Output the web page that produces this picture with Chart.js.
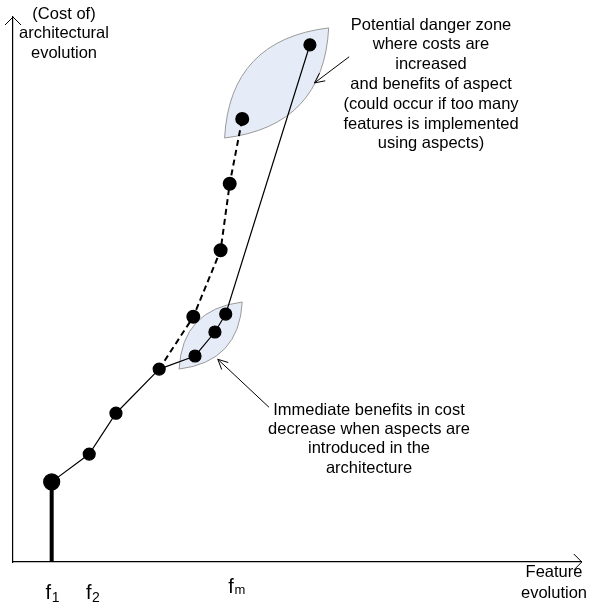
<!DOCTYPE html>
<html>
<head>
<meta charset="utf-8">
<script src="https://cdn.jsdelivr.net/npm/chart.js@4.4.0/dist/chart.umd.min.js"></script>
<style>
  body { margin: 0; background: #fff; }
  #wrap { width: 591px; height: 604px; }
</style>
</head>
<body>
<div id="wrap"><canvas id="cost"></canvas></div>
<script>
// feature evolution (x) vs cost of architectural evolution (y), arbitrary units 0..100
var featureX = [6.8, 13.4, 18.1, 25.7];
var costBase = [14.7, 19.8, 27.3, 35.4];
var aspectX = [25.7, 32.0, 35.5, 37.4, 52.2];
var costAspect = [35.4, 37.8, 42.2, 45.5, 94.9];
var tooManyX = [25.7, 31.7, 36.5, 38.1, 40.3];
var costTooMany = [35.4, 45.0, 57.2, 69.4, 81.3];
var tickValues = [6.9, 14.0, 39.3];
var tickLabels = [["f", "1"], ["f", "2"], ["f", "m"]];

// zones: [x0, y0, x1, y1] lower-left and upper-right corners
var zones = [[37.2, 77.8, 55.5, 98.0], [29.2, 35.4, 40.3, 47.7]];
// arrows: [fromX, fromY, toX, toY]
var arrows = [[59.1, 92.7, 53.0, 87.9], [45.0, 28.4, 36.0, 37.2]];

var FONT = '"Liberation Sans", Arial, sans-serif';

function pts(xs, ys) {
    return xs.map(function (v, i) { return { x: v, y: ys[i] }; });
}

function textBlock(ctx, lines, cx, y0, step) {
    lines.forEach(function (l, i) { ctx.fillText(l, cx, y0 + i * step); });
}

var drawings = {
    id: "drawings",
    beforeDatasetsDraw: function (chart) {
        var ctx = chart.ctx, sx = chart.scales.x, sy = chart.scales.y;
        ctx.save();
        zones.forEach(function (z) {
            var ax = sx.getPixelForValue(z[0]), ay = sy.getPixelForValue(z[1]);
            var bx = sx.getPixelForValue(z[2]), by = sy.getPixelForValue(z[3]);
            var w = bx - ax, h = ay - by;
            ctx.beginPath();
            ctx.moveTo(ax, ay);
            ctx.quadraticCurveTo(ax + 0.05 * w, by + 0.11 * h, bx, by);
            ctx.quadraticCurveTo(bx - 0.05 * w, ay - 0.11 * h, ax, ay);
            ctx.closePath();
            ctx.fillStyle = "#e6ecf7";
            ctx.fill();
            ctx.strokeStyle = "#999999";
            ctx.lineWidth = 1;
            ctx.stroke();
        });
        ctx.restore();
    },
    afterDraw: function (chart) {
        var ctx = chart.ctx, sx = chart.scales.x, sy = chart.scales.y, a = chart.chartArea;
        ctx.save();
        ctx.strokeStyle = "#000";
        ctx.lineWidth = 1;
        // axis arrowheads
        ctx.beginPath();
        ctx.moveTo(a.left - 8, a.top + 8); ctx.lineTo(a.left, a.top); ctx.lineTo(a.left + 8, a.top + 8);
        ctx.moveTo(a.right - 8, a.bottom - 8); ctx.lineTo(a.right, a.bottom); ctx.lineTo(a.right - 8, a.bottom + 8);
        ctx.stroke();
        // annotation arrows
        arrows.forEach(function (r) {
            var x0 = sx.getPixelForValue(r[0]), y0 = sy.getPixelForValue(r[1]);
            var x1 = sx.getPixelForValue(r[2]), y1 = sy.getPixelForValue(r[3]);
            var ang = Math.atan2(y1 - y0, x1 - x0);
            ctx.beginPath();
            ctx.moveTo(x0, y0); ctx.lineTo(x1, y1);
            ctx.moveTo(x1 - 11 * Math.cos(ang - 0.45), y1 - 11 * Math.sin(ang - 0.45));
            ctx.lineTo(x1, y1);
            ctx.lineTo(x1 - 11 * Math.cos(ang + 0.45), y1 - 11 * Math.sin(ang + 0.45));
            ctx.stroke();
        });
        // texts
        ctx.fillStyle = "#000";
        ctx.textAlign = "center";
        ctx.textBaseline = "middle";
        ctx.font = "16.5px " + FONT;
        textBlock(ctx, ["(Cost of)", "architectural", "evolution"], 64, 14, 19.5);
        textBlock(ctx, ["Potential danger zone", "where costs are", "increased",
            "and benefits of aspect", "(could occur if too many",
            "features is implemented", "using aspects)"], 431, 25, 19.8);
        textBlock(ctx, ["Immediate benefits in cost", "decrease when aspects are",
            "introduced in the", "architecture"], 369, 410, 19.4);
        textBlock(ctx, ["Feature", "evolution"], 554, 572, 21);
        // x tick labels with subscripts (fm sits a little higher, as in the drawing)
        var lift = [0, 0, 6];
        var subSize = [14, 14, 13];
        var subDrop = [3, 3, 1];
        ctx.textAlign = "left";
        ctx.textBaseline = "alphabetic";
        tickValues.forEach(function (v, i) {
            var px = sx.getPixelForValue(v);
            ctx.font = "20px " + FONT;
            var wf = ctx.measureText(tickLabels[i][0]).width;
            ctx.font = subSize[i] + "px " + FONT;
            var ws = ctx.measureText(tickLabels[i][1]).width;
            var left = px - (wf + ws) / 2;
            var base = a.bottom + 37 - lift[i];
            ctx.font = "20px " + FONT;
            ctx.fillText(tickLabels[i][0], left, base);
            ctx.font = subSize[i] + "px " + FONT;
            ctx.fillText(tickLabels[i][1], left + wf + 0.5, base + subDrop[i]);
        });
        ctx.restore();
    }
};

var chart = new Chart("cost", {
    type: "scatter",
    data: {
        datasets: [{
                data: [{ x: featureX[0], y: 0 }, { x: featureX[0], y: costBase[0] }],
                showLine: true,
                borderColor: "#000",
                borderWidth: 4,
                pointRadius: 0
            }, {
                data: pts(tooManyX, costTooMany),
                showLine: true,
                borderColor: "#000",
                borderWidth: 2,
                borderDash: [6, 4],
                backgroundColor: "#000",
                pointRadius: [0, 6, 6, 6, 6]
            }, {
                data: pts(aspectX, costAspect),
                showLine: true,
                borderColor: "#000",
                borderWidth: 1.2,
                backgroundColor: "#000",
                pointRadius: [0, 6, 6, 6, 6]
            }, {
                data: pts(featureX, costBase),
                showLine: true,
                borderColor: "#000",
                borderWidth: 1.2,
                backgroundColor: "#000",
                pointRadius: [8, 6, 6, 6]
            }]
    },
    options: {
        responsive: true,
        maintainAspectRatio: false,
        animation: false,
        layout: { padding: { left: 13, right: 3, top: 17, bottom: 42 } },
        plugins: { legend: { display: false }, tooltip: { enabled: false } },
        scales: {
            x: {
                type: "linear", min: 0, max: 100,
                grid: { display: false, drawTicks: false },
                ticks: { display: false },
                border: { display: true, color: "#000", width: 1.2 }
            },
            y: {
                type: "linear", min: 0, max: 100,
                grid: { display: false, drawTicks: false },
                ticks: { display: false },
                border: { display: true, color: "#000", width: 1.2 }
            }
        }
    },
    plugins: [drawings]
});
</script>
</body>
</html>
